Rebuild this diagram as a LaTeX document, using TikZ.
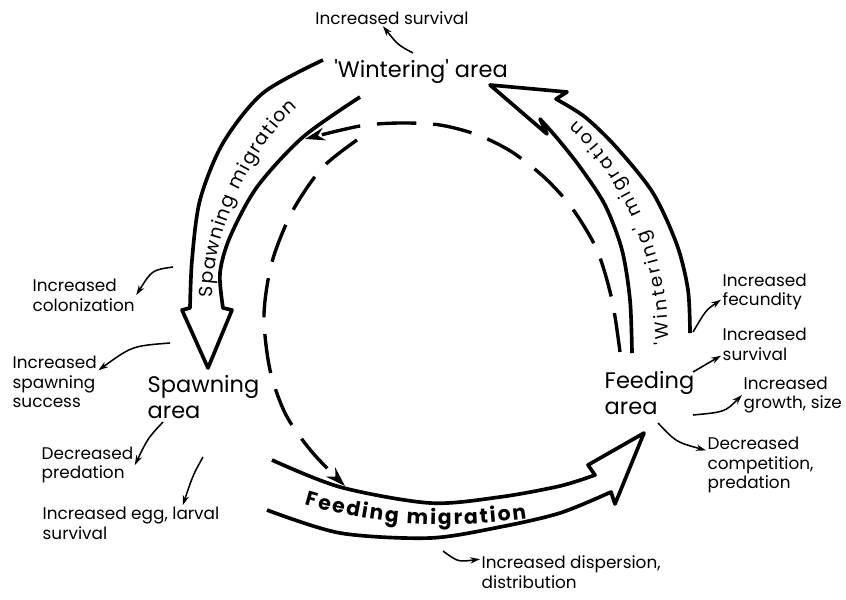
\documentclass[tikz,border=0pt]{standalone}
\usepackage{fontspec}
\setmainfont{Poppins}
\usetikzlibrary{arrows.meta,decorations.text}

\begin{document}
\begin{tikzpicture}[
    x=0.025cm, y=-0.025cm,
    font=\fontsize{12}{14}\selectfont,
    >={Stealth[length=7pt,width=4.5pt]},
    area/.style={font=\fontsize{16}{19}\selectfont, align=left, inner sep=1pt},
    effect/.style={align=left, inner sep=1pt},
    migr/.style={line width=2.6pt, line join=round, fill=white},
    cycle/.style={line width=2.4pt, dash pattern=on 28pt off 12pt,
        -{Stealth[length=14pt,width=9pt]}},
    note/.style={line width=1.1pt, ->},
    label/.style={decorate, decoration={text along path, text align=fit to path, raise=-4pt}}
]
\useasboundingbox (0,0) rectangle (846,599);

% -------------------------------------------------------------------------
% 1. Migration arrows (hollow)
% -------------------------------------------------------------------------
% Spawning migration
\draw[migr] plot[smooth] coordinates {(323,60) (263,93) (223,143) (200,200) (192,260) (190,308)}
    -- (182,310) -- (208,368) -- (232,310) -- (223,308)
    -- plot[smooth] coordinates {(223,308) (220,273) (230,237) (257,187) (303,137) (360,97)};

% Wintering migration
\draw[migr] plot[smooth] coordinates {(632,353) (630,300) (622,250) (605,205) (580,167) (557,138) (540,119)}
    -- (547,134) -- (490,85) -- (567,92) -- (556,99)
    -- plot[smooth] coordinates {(556,99) (585,117) (617,148) (653,193) (677,245) (688,290) (690,333)};

% Feeding migration
\draw[migr] plot[smooth] coordinates {(272,460) (340,487) (430,503) (500,497) (560,486) (595,475)}
    -- (588,465) -- (644,433) -- (615,504) -- (611,492)
    -- plot[smooth] coordinates {(611,492) (560,513) (500,527) (430,538) (340,533) (267,510)};

% -------------------------------------------------------------------------
% 2. Dashed cycle
% -------------------------------------------------------------------------
\draw[cycle] plot[smooth] coordinates {(620,352) (612,300) (597,250) (572,208) (545,178)
    (512,152) (478,135) (440,125) (400,123) (360,126) (305,139)};
\draw[cycle] plot[smooth] coordinates {(357,140) (322,168) (292,212) (272,262) (264,315)
    (270,370) (286,415) (312,452) (345,486)};

% -------------------------------------------------------------------------
% 3. Labels on the arrows
% -------------------------------------------------------------------------
\path[label, decoration={text={|\fontsize{13.5}{13.5}\selectfont|Spawning migration}}]
    (207,297) .. controls (206,230) and (250,140) .. (294,103);
\path[label, decoration={text={|\fontsize{13}{13}\selectfont|{\textquotesingle}Wintering{\textquotesingle} migration},
        text align=center}]
    (663,345) .. controls (664,260) and (627,175) .. (572,125);
\path[label, decoration={text={|\fontsize{14.5}{14.5}\selectfont\bfseries|Feeding migration},
        text align=center}]
    (306,499) .. controls (380,521) and (450,523) .. (526,513);

% -------------------------------------------------------------------------
% 4. Areas
% -------------------------------------------------------------------------
\node[area] (wint) at (421,72) {\textquotesingle Wintering\textquotesingle\ area};
\node[area, anchor=west] (spaw) at (146,397) {Spawning\\area};
\node[area, anchor=west] (feed) at (603,393) {Feeding\\area};

% -------------------------------------------------------------------------
% 5. Effects
% -------------------------------------------------------------------------
\node[effect] (survW) at (392,18) {Increased survival};
\node[effect, anchor=west] (colz) at (31,295) {Increased\\colonization};
\node[effect, anchor=west] (spsu) at (11,382) {Increased\\spawning\\success};
\node[effect, anchor=west] (depr) at (40,465) {Decreased\\predation};
\node[effect, anchor=west] (eggl) at (41,523) {Increased egg, larval\\survival};
\node[effect, anchor=west] (fecu) at (721,292) {Increased\\fecundity};
\node[effect, anchor=west] (survF) at (721,344) {Increased\\survival};
\node[effect, anchor=west] (grow) at (742,395) {Increased\\growth, size};
\node[effect, anchor=west] (decc) at (706,465) {Decreased\\competition,\\predation};
\node[effect, anchor=west] (disp) at (480,572) {Increased dispersion,\\distribution};

\coordinate (fromW) at (413,53);
\coordinate (fromS1) at (173,267);
\coordinate (fromS2) at (170,343);
\coordinate (fromS3) at (163,422);
\coordinate (fromS4) at (203,457);
\coordinate (fromF1) at (693,332);
\coordinate (fromF2) at (693,372);
\coordinate (fromF3) at (693,415);
\coordinate (fromF4) at (658,423);
\coordinate (fromM) at (443,551);

\draw[note] (fromW) .. controls (398,45) .. (survW.222);
\draw[note] (fromS1) .. controls (152,270) .. (colz.east);
\draw[note] (fromS2) .. controls (132,346) .. (spsu.15);
\draw[note] (fromS3) .. controls (148,438) .. (depr.east);
\draw[note] (fromS4) .. controls (193,475) .. (eggl.19);
\draw[note] (fromF1) .. controls (706,310) .. (fecu.190);
\draw[note] (fromF2) .. controls (710,362) .. (survF.195);
\draw[note] (fromF3) .. controls (725,412) .. (grow.west);
\draw[note] (fromF4) .. controls (676,442) .. (decc.165);
\draw[note] (fromM) .. controls (458,562) .. (disp.172);

\end{tikzpicture}
\end{document}
